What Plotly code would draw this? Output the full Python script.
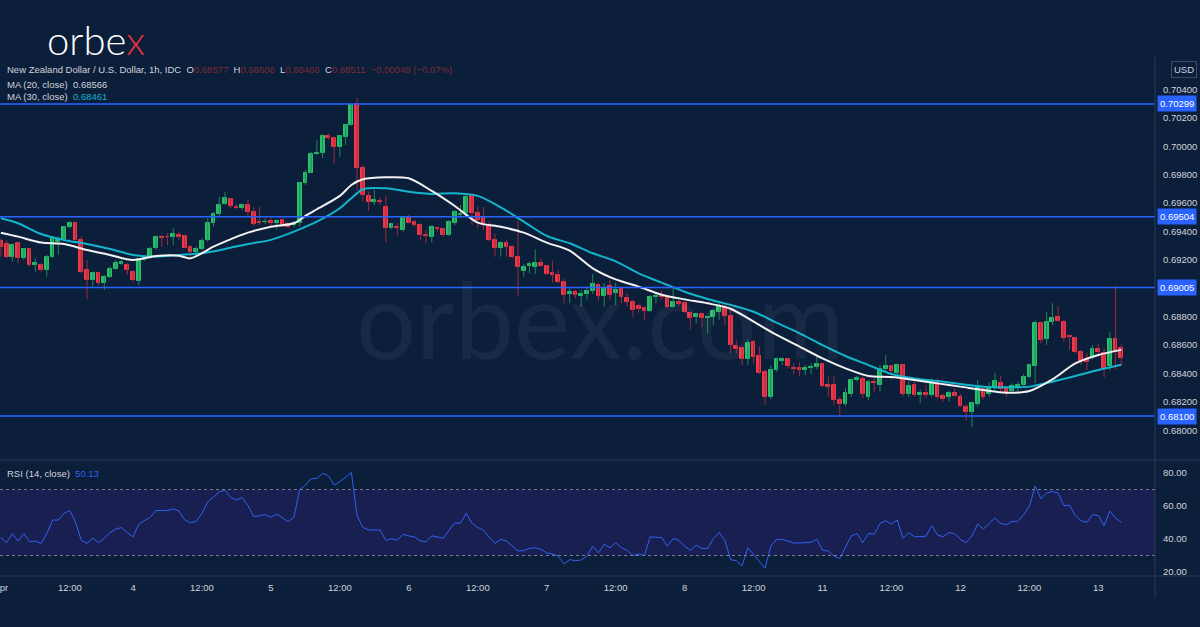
import plotly.graph_objects as go

# ---------------- data (hour index: 0 = 4 Apr 00:00, trading hours) ----------------
hours = list(range(-23, 173))

open_ = [0.69336,0.69310,0.69223,0.69317,0.69211,0.69275,0.69167,0.69164,0.69129,0.69223,
         0.69329,0.69348,0.69434,0.69463,0.69341,0.69129,0.69059,0.69106,0.69035,0.69077,
         0.69134,0.69171,0.69164,0.69117,0.69054,0.69199,0.69223,0.69282,0.69364,0.69364,
         0.69364,0.69376,0.69369,0.69289,0.69258,0.69275,0.69341,0.69463,0.69524,0.69592,
         0.69627,0.69576,0.69564,0.69585,0.69540,0.69465,0.69465,0.69477,0.69458,0.69481,
         0.69453,0.69446,0.69458,0.69745,0.69815,0.69947,0.69952,0.70074,0.70057,0.69994,
         0.70069,0.70151,0.70299,0.69846,0.69653,0.69611,0.69618,0.69571,0.69423,0.69430,
         0.69411,0.69493,0.69465,0.69446,0.69373,0.69364,0.69428,0.69416,0.69376,0.69458,
         0.69517,0.69533,0.69655,0.69533,0.69500,0.69446,0.69341,0.69282,0.69317,0.69289,
         0.69223,0.69124,0.69157,0.69148,0.69176,0.69157,0.69106,0.69094,0.69047,0.68960,
         0.68976,0.68946,0.68960,0.68981,0.69023,0.68946,0.69016,0.68965,0.68993,0.68929,
         0.68901,0.68875,0.68863,0.68842,0.68936,0.68946,0.68936,0.68871,0.68906,0.68894,
         0.68828,0.68800,0.68819,0.68788,0.68795,0.68835,0.68871,0.68805,0.68596,0.68577,
         0.68499,0.68624,0.68523,0.68412,0.68231,0.68424,0.68490,0.68499,0.68440,0.68436,
         0.68424,0.68436,0.68443,0.68464,0.68318,0.68318,0.68213,0.68184,0.68255,0.68354,
         0.68358,0.68236,0.68342,0.68318,0.68429,0.68452,0.68405,0.68459,0.68255,0.68318,
         0.68248,0.68260,0.68248,0.68349,0.68241,0.68231,0.68260,0.68236,0.68165,0.68130,
         0.68184,0.68288,0.68255,0.68302,0.68330,0.68295,0.68278,0.68302,0.68318,0.68377,
         0.68452,0.68758,0.68640,0.68765,0.68795,0.68765,0.68664,0.68647,0.68553,0.68499,
         0.68506,0.68570,0.68546,0.68452,0.68640,0.68577]
high = [0.69352,0.69336,0.69317,0.69329,0.69282,0.69282,0.69211,0.69176,0.69235,0.69371,
        0.69364,0.69439,0.69474,0.69470,0.69364,0.69199,0.69117,0.69117,0.69094,0.69153,
        0.69199,0.69204,0.69181,0.69129,0.69211,0.69235,0.69293,0.69373,0.69376,0.69388,
        0.69423,0.69399,0.69376,0.69305,0.69293,0.69352,0.69493,0.69540,0.69646,0.69681,
        0.69634,0.69592,0.69599,0.69622,0.69576,0.69576,0.69493,0.69500,0.69486,0.69493,
        0.69463,0.69474,0.69745,0.69834,0.69963,0.70046,0.70085,0.70093,0.70069,0.70081,
        0.70156,0.70304,0.70339,0.69869,0.69681,0.69693,0.69641,0.69655,0.69458,0.69458,
        0.69505,0.69517,0.69481,0.69458,0.69411,0.69446,0.69434,0.69423,0.69481,0.69552,
        0.69587,0.69670,0.69665,0.69576,0.69571,0.69470,0.69383,0.69329,0.69341,0.69305,
        0.69477,0.69171,0.69188,0.69275,0.69211,0.69164,0.69195,0.69129,0.69070,0.69000,
        0.68988,0.68988,0.69012,0.69101,0.69040,0.69035,0.69059,0.69040,0.69000,0.68964,
        0.68918,0.68894,0.68871,0.68953,0.68969,0.68988,0.68946,0.69007,0.68918,0.68906,
        0.68835,0.68828,0.68828,0.68805,0.68852,0.68913,0.68882,0.68859,0.68632,0.68589,
        0.68640,0.68640,0.68589,0.68424,0.68459,0.68513,0.68513,0.68506,0.68471,0.68476,
        0.68459,0.68471,0.68530,0.68471,0.68377,0.68377,0.68236,0.68295,0.68365,0.68382,
        0.68377,0.68354,0.68365,0.68459,0.68530,0.68459,0.68471,0.68466,0.68342,0.68342,
        0.68288,0.68318,0.68365,0.68365,0.68255,0.68278,0.68295,0.68255,0.68184,0.68201,
        0.68354,0.68295,0.68335,0.68405,0.68382,0.68307,0.68330,0.68342,0.68396,0.68471,
        0.68772,0.68765,0.68835,0.68894,0.68870,0.68777,0.68671,0.68659,0.68565,0.68546,
        0.68600,0.68607,0.68584,0.68694,0.69016,0.68606]
low = [0.69223,0.69211,0.69188,0.69176,0.69199,0.69153,0.69117,0.69117,0.69082,0.69211,
       0.69235,0.69341,0.69423,0.69329,0.69106,0.68922,0.69012,0.69023,0.68988,0.69070,
       0.69129,0.69164,0.69094,0.69047,0.69023,0.69195,0.69211,0.69270,0.69293,0.69305,
       0.69305,0.69341,0.69282,0.69223,0.69235,0.69265,0.69329,0.69434,0.69505,0.69587,
       0.69564,0.69557,0.69552,0.69510,0.69439,0.69446,0.69453,0.69430,0.69416,0.69434,
       0.69425,0.69430,0.69434,0.69728,0.69811,0.69940,0.69916,0.70046,0.69881,0.69928,
       0.70010,0.70144,0.69693,0.69611,0.69547,0.69587,0.69587,0.69322,0.69416,0.69371,
       0.69399,0.69458,0.69434,0.69341,0.69317,0.69322,0.69399,0.69364,0.69369,0.69446,
       0.69493,0.69524,0.69446,0.69423,0.69411,0.69329,0.69223,0.69223,0.69223,0.69211,
       0.68941,0.69082,0.69106,0.69101,0.69153,0.69094,0.69040,0.69035,0.68894,0.68894,
       0.68929,0.68871,0.68922,0.68960,0.68913,0.68871,0.68918,0.68882,0.68894,0.68871,
       0.68795,0.68828,0.68777,0.68835,0.68894,0.68918,0.68859,0.68866,0.68875,0.68828,
       0.68711,0.68753,0.68725,0.68683,0.68741,0.68777,0.68741,0.68542,0.68542,0.68459,
       0.68459,0.68471,0.68396,0.68177,0.68217,0.68412,0.68459,0.68436,0.68396,0.68382,
       0.68389,0.68396,0.68429,0.68302,0.68236,0.68177,0.68100,0.68170,0.68236,0.68342,
       0.68224,0.68213,0.68271,0.68271,0.68419,0.68354,0.68365,0.68236,0.68236,0.68236,
       0.68189,0.68224,0.68236,0.68224,0.68201,0.68201,0.68236,0.68165,0.68067,0.68020,
       0.68165,0.68217,0.68236,0.68283,0.68271,0.68236,0.68260,0.68260,0.68307,0.68365,
       0.68330,0.68612,0.68600,0.68741,0.68765,0.68624,0.68565,0.68542,0.68459,0.68424,
       0.68499,0.68518,0.68372,0.68424,0.68429,0.68460]
close = [0.69289,0.69223,0.69305,0.69211,0.69275,0.69164,0.69176,0.69129,0.69223,0.69352,
         0.69341,0.69434,0.69458,0.69341,0.69117,0.69059,0.69110,0.69040,0.69082,0.69136,
         0.69176,0.69188,0.69129,0.69059,0.69204,0.69223,0.69279,0.69359,0.69357,0.69359,
         0.69383,0.69359,0.69286,0.69258,0.69275,0.69336,0.69463,0.69521,0.69587,0.69634,
         0.69580,0.69568,0.69590,0.69540,0.69451,0.69460,0.69470,0.69458,0.69477,0.69446,
         0.69434,0.69458,0.69740,0.69815,0.69947,0.69956,0.70074,0.70057,0.69994,0.70074,
         0.70151,0.70292,0.69846,0.69658,0.69611,0.69622,0.69611,0.69423,0.69451,0.69423,
         0.69493,0.69463,0.69446,0.69376,0.69369,0.69430,0.69416,0.69376,0.69467,0.69536,
         0.69524,0.69641,0.69528,0.69481,0.69446,0.69341,0.69282,0.69322,0.69293,0.69223,
         0.69148,0.69153,0.69171,0.69176,0.69157,0.69101,0.69094,0.69047,0.68953,0.68976,
         0.68953,0.68960,0.68981,0.69030,0.68946,0.69000,0.68953,0.68988,0.68936,0.68901,
         0.68847,0.68852,0.68842,0.68936,0.68946,0.68936,0.68866,0.68901,0.68889,0.68835,
         0.68788,0.68819,0.68788,0.68795,0.68842,0.68871,0.68805,0.68600,0.68575,0.68499,
         0.68612,0.68518,0.68405,0.68231,0.68424,0.68499,0.68504,0.68452,0.68429,0.68424,
         0.68436,0.68448,0.68466,0.68311,0.68307,0.68213,0.68184,0.68260,0.68354,0.68370,
         0.68255,0.68339,0.68330,0.68429,0.68452,0.68419,0.68459,0.68255,0.68311,0.68248,
         0.68260,0.68248,0.68349,0.68236,0.68217,0.68260,0.68241,0.68170,0.68130,0.68189,
         0.68295,0.68236,0.68302,0.68346,0.68288,0.68271,0.68311,0.68318,0.68377,0.68459,
         0.68758,0.68636,0.68765,0.68788,0.68772,0.68647,0.68654,0.68553,0.68490,0.68483,
         0.68570,0.68553,0.68436,0.68640,0.68560,0.68511]

ma20_hours = [-23,-20,-16,-12,-8,-4,0,4,8,10,14,16,20,24,28,30,32,36,38,40,44,48,52,56,60,64,68,
              72,76,80,84,88,92,96,100,104,108,112,116,120,124,128,132,136,140,144,148,152,156,
              160,164,168,172]
ma20 = [0.69392,0.69364,0.69322,0.69312,0.69270,0.69235,0.69199,0.69228,0.69230,0.69211,0.69293,
        0.69329,0.69392,0.69434,0.69458,0.69510,0.69557,0.69651,0.69728,0.69768,0.69782,0.69775,
        0.69686,0.69580,0.69463,0.69434,0.69392,0.69322,0.69265,0.69141,0.69063,0.69012,0.68955,
        0.68922,0.68894,0.68856,0.68765,0.68671,0.68589,0.68506,0.68436,0.68382,0.68375,0.68354,
        0.68330,0.68307,0.68283,0.68264,0.68276,0.68358,0.68471,0.68530,0.68566]

ma30_hours = [-23,-20,-16,-12,-8,-4,0,4,8,12,16,20,24,28,30,32,36,38,40,44,48,52,56,60,64,68,72,
              76,80,84,88,92,96,100,104,108,112,116,120,124,128,132,136,140,144,148,152,156,160,
              164,168,172]
ma30 = [0.69493,0.69458,0.69383,0.69341,0.69312,0.69277,0.69235,0.69223,0.69235,0.69247,0.69277,
        0.69312,0.69341,0.69399,0.69434,0.69470,0.69564,0.69634,0.69698,0.69705,0.69681,0.69665,
        0.69670,0.69651,0.69571,0.69470,0.69369,0.69317,0.69247,0.69190,0.69105,0.69040,0.68976,
        0.68925,0.68883,0.68835,0.68758,0.68683,0.68600,0.68523,0.68459,0.68396,0.68365,0.68346,
        0.68325,0.68307,0.68302,0.68307,0.68342,0.68382,0.68424,0.68461]

rsi = [40.9,37.8,43.3,38.8,43.3,38.4,38.8,37.4,43.3,51.5,
       51.5,55.6,57.3,50.1,39.2,37.4,40.5,37.8,40.5,43.9,
       46.0,47.0,43.9,41.3,49.1,51.1,53.2,57.3,57.3,57.3,
       58.3,56.9,51.5,49.9,50.7,55.6,62.4,65.5,68.6,69.6,
       65.1,63.8,65.1,60.4,53.6,54.2,54.8,53.2,55.2,52.8,
       50.7,53.2,70.0,72.7,76.4,76.8,79.8,78.4,72.7,74.7,
       77.4,80.3,54.2,47.0,45.6,45.4,45.4,39.2,40.2,39.2,
       42.9,41.9,41.3,38.8,38.4,41.9,41.3,40.5,45.4,49.7,
       49.7,55.6,49.5,47.0,45.4,40.9,37.4,39.8,38.8,35.7,
       32.7,33.0,34.3,34.7,33.7,31.6,31.0,29.6,24.9,27.5,
       26.9,27.3,29.6,35.7,31.6,36.8,34.7,37.8,34.7,33.1,
       30.0,31.0,30.0,41.3,41.3,40.9,35.7,40.3,39.2,35.7,
       33.1,36.2,34.3,34.3,40.3,44.0,39.2,27.5,26.9,23.8,
       34.7,30.6,26.5,22.4,35.7,39.8,39.8,38.8,37.6,37.6,
       37.6,38.0,39.8,33.3,32.7,29.6,28.2,35.1,41.9,43.3,
       37.8,43.3,42.9,49.5,51.1,49.1,51.5,40.5,43.9,41.3,
       41.7,41.7,48.1,42.5,41.3,43.9,43.3,39.8,37.8,41.9,
       49.1,46.0,49.5,52.8,49.5,48.7,50.7,50.7,54.8,59.7,
       72.1,64.5,67.9,68.8,67.9,60.4,60.4,54.2,51.1,50.1,
       54.8,54.2,48.1,56.9,52.8,50.13]

levels = [0.70299, 0.69504, 0.69005, 0.68100]
price_ticks = [0.680, 0.682, 0.684, 0.686, 0.688, 0.692, 0.694, 0.696, 0.698, 0.700, 0.702, 0.704]
rsi_ticks = [20, 40, 60, 80]
time_tick_hours = [-23, -11, 0, 12, 24, 36, 48, 60, 72, 84, 96, 108, 120, 132, 144, 156, 168]
time_tick_text = ["Apr", "12:00", "4", "12:00", "5", "12:00", "6", "12:00", "7", "12:00", "8",
                  "12:00", "11", "12:00", "12", "12:00", "13"]

# ---------------- styling ----------------
W, H = 1200, 627
BG = "#0b1e3a"
GREEN, RED = "#27c16b", "#f2364a"
GREEN_WICK, RED_WICK = "#1d8a55", "#a02a3b"
BLUE = "#2962ff"
TXT = "#d1d4dc"
FONT = "Liberation Sans, Arial, sans-serif"
FS = 9.5

PLOT_R = 1155 / W
def py(p):  # pixel row -> paper y
    return 1 - p / H

price_dom = [py(460), py(55)]
rsi_dom = [py(576), py(460)]
x_range = [-23.15, 177.86]

fig = go.Figure()

# wicks
fig.add_trace(go.Ohlc(
    x=hours, open=open_, high=high, low=low, close=close, tickwidth=0,
    increasing=dict(line=dict(color=GREEN_WICK, width=1)),
    decreasing=dict(line=dict(color=RED_WICK, width=1)),
    hoverinfo="skip", showlegend=False, xaxis="x", yaxis="y"))

# bodies
body_base = [min(o, c) for o, c in zip(open_, close)]
body_h = [abs(c - o) for o, c in zip(open_, close)]
body_col = [GREEN if c >= o else RED for o, c in zip(open_, close)]
fig.add_trace(go.Bar(
    x=hours, y=body_h, base=body_base, width=0.66,
    marker=dict(color=body_col, line=dict(color=body_col, width=1)),
    hoverinfo="skip", showlegend=False, xaxis="x", yaxis="y"))

# moving averages
fig.add_trace(go.Scatter(x=ma30_hours, y=ma30, mode="lines",
                         line=dict(color="#13b5cc", width=2, shape="spline", smoothing=0.8),
                         hoverinfo="skip", showlegend=False, xaxis="x", yaxis="y"))
fig.add_trace(go.Scatter(x=ma20_hours, y=ma20, mode="lines",
                         line=dict(color="#f2f2f2", width=2, shape="spline", smoothing=0.8),
                         hoverinfo="skip", showlegend=False, xaxis="x", yaxis="y"))

# RSI
fig.add_trace(go.Scatter(x=hours, y=rsi, mode="lines",
                         line=dict(color="#2f62f0", width=1),
                         hoverinfo="skip", showlegend=False, xaxis="x2", yaxis="y2"))

shapes = []
shapes.append(dict(type="rect", xref="paper", yref="y2", x0=0, x1=PLOT_R, y0=30, y1=70,
                   fillcolor="#1a1f52", line=dict(width=0), layer="below"))
for v in (30, 70):
    shapes.append(dict(type="line", xref="paper", yref="y2", x0=0, x1=PLOT_R, y0=v, y1=v,
                       line=dict(color="#7a7f8e", width=1, dash="dot")))
for lv in levels:
    shapes.append(dict(type="line", xref="paper", yref="y", x0=0, x1=PLOT_R, y0=lv, y1=lv,
                       line=dict(color=BLUE, width=1.5)))
for yp in (460, 576):
    shapes.append(dict(type="line", xref="paper", yref="paper", x0=0, x1=1, y0=py(yp), y1=py(yp),
                       line=dict(color="#2b3a55", width=1)))
shapes.append(dict(type="line", xref="paper", yref="paper", x0=PLOT_R, x1=PLOT_R,
                   y0=py(598), y1=py(57), line=dict(color="#2b3a55", width=1)))

ann = []
def A(x, y, text, size=FS, color=TXT, xanchor="left", **kw):
    d = dict(xref="paper", yref="paper", x=x / W, y=py(y), text=text, showarrow=False,
             xanchor=xanchor, yanchor="middle", font=dict(size=size, color=color, family=FONT))
    d.update(kw)
    ann.append(d)

nb = "\u00a0"
dim = "#7e2b37"
hdr = ("New Zealand Dollar / U.S. Dollar, 1h, IDC" + nb * 2 +
       f"O<span style='color:{dim}'>0.68577</span>" + nb * 2 +
       f"H<span style='color:{dim}'>0.68606</span>" + nb * 2 +
       f"L<span style='color:{dim}'>0.68460</span>" + nb * 2 +
       f"C<span style='color:{dim}'>0.68511</span>" + nb * 2 +
       f"<span style='color:{dim}'>−0.00049 (−0.07%)</span>")
A(5, 70, hdr)
A(5, 84, "MA (20, close)" + nb * 2 + "0.68566")
A(5, 97, "MA (30, close)" + nb * 2 + "<span style='color:#13b5cc'>0.68461</span>")
A(5, 474, "RSI (14, close)" + nb * 2 + "<span style='color:#2f62f0'>50.13</span>")

# logo + watermark
ann.append(dict(xref="paper", yref="paper", x=45 / W, y=py(40), showarrow=False,
                text="orbe<span style='color:#e8333f'>x</span>",
                xanchor="left", yanchor="middle", height=32, valign="middle",
                font=dict(size=40, color="#ffffff", family="Lato, sans-serif", weight=300)))
ann.append(dict(xref="paper", yref="paper", x=600 / W, y=py(318), text="orbex.com", showarrow=False,
                xanchor="center", yanchor="middle",
                font=dict(size=106, color="rgba(255,255,255,0.05)", family="Lato, sans-serif", weight=400)))

for lv in levels:
    ann.append(dict(xref="paper", yref="y", x=PLOT_R + 2 / W, y=lv, text=f"{lv:.5f}", showarrow=False,
                    xanchor="left", yanchor="middle", bgcolor=BLUE, borderpad=2,
                    font=dict(size=FS, color="#ffffff", family=FONT)))
ann.append(dict(xref="paper", yref="paper", x=1184 / W, y=py(69), text="USD", showarrow=False,
                xanchor="center", yanchor="middle", bgcolor=BG, bordercolor="#3b4a66",
                borderwidth=1, borderpad=2, font=dict(size=FS, color=TXT, family=FONT)))

axis_common = dict(showgrid=False, zeroline=False, showline=False, automargin=False)
tf = dict(size=FS, color=TXT, family=FONT)
fig.update_layout(
    width=W, height=H, margin=dict(l=0, r=0, t=0, b=0, autoexpand=False),
    paper_bgcolor=BG, plot_bgcolor=BG, showlegend=False, bargap=0,
    xaxis=dict(domain=[0, PLOT_R], range=x_range, anchor="y", showticklabels=False,
               rangeslider=dict(visible=False), **axis_common),
    xaxis2=dict(domain=[0, PLOT_R], range=x_range, anchor="y2", matches="x",
                tickmode="array", tickvals=time_tick_hours, ticktext=time_tick_text,
                ticks="", ticklabelstandoff=4, ticklabeloverflow="allow", tickfont=tf,
                **axis_common),
    yaxis=dict(domain=price_dom, range=[0.67790, 0.70644], side="right", anchor="x",
               tickmode="array", tickvals=price_ticks, tickformat=".5f", ticks="",
               ticklabelstandoff=7, tickfont=tf, **axis_common),
    yaxis2=dict(domain=rsi_dom, range=[17.6, 87.9], side="right", anchor="x2",
                tickmode="array", tickvals=rsi_ticks, tickformat=".2f", ticks="",
                ticklabelstandoff=7, tickfont=tf, **axis_common),
    shapes=shapes, annotations=ann,
)

fig.write_html("out.html", config={"displayModeBar": False},
               post_script="document.body.style.margin='0';document.body.style.background='" + BG + "';")
